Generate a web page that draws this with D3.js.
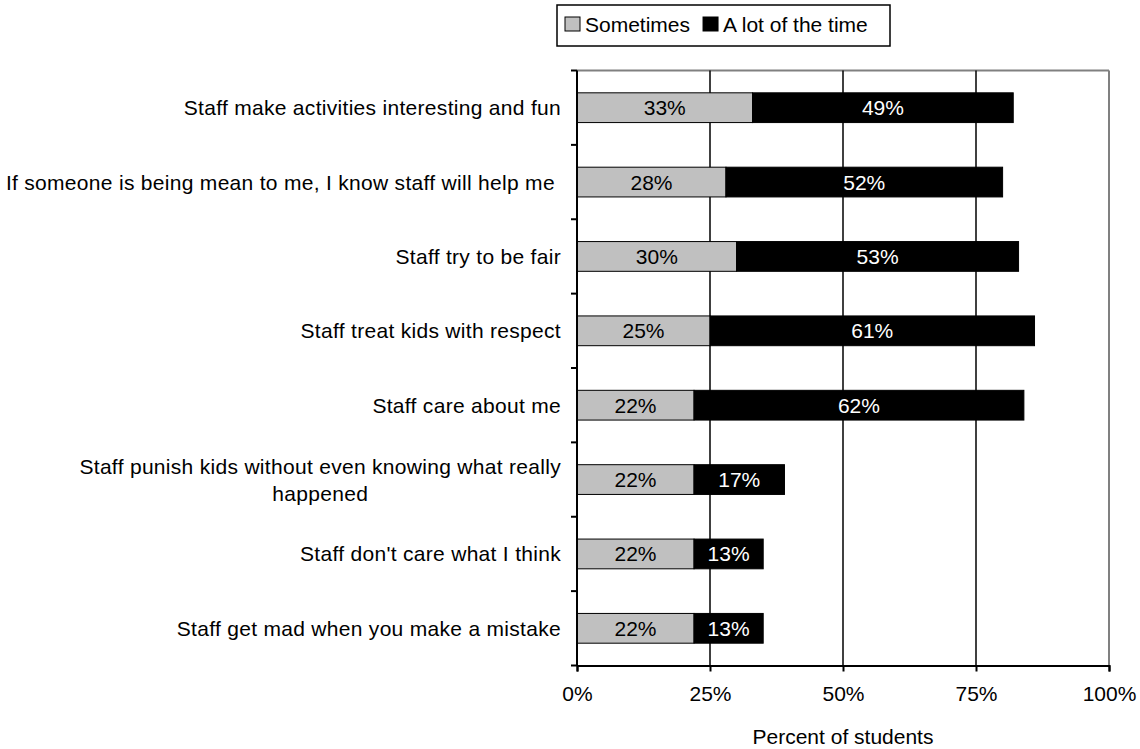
<!DOCTYPE html>
<html>
<head>
<meta charset="utf-8">
<script src="https://cdn.jsdelivr.net/npm/d3@7"></script>
<style>
  html, body { margin: 0; padding: 0; background: #fff; }
  svg { display: block; }
  text { font-family: "Liberation Sans", Arial, sans-serif; }
</style>
</head>
<body>
<svg id="chart" width="1140" height="749"></svg>
<script>
// Survey items (top to bottom); "\n" marks a manual line break
const categories = [
  "Staff make activities interesting and fun",
  "If someone is being mean to me, I know staff will help me ",
  "Staff try to be fair",
  "Staff treat kids with respect",
  "Staff care about me",
  "Staff punish kids without even knowing what really\nhappened",
  "Staff don't care what I think",
  "Staff get mad when you make a mistake"
];
const sometimes = [33, 28, 30, 25, 22, 22, 22, 22];
const aLotOfTheTime = [49, 52, 53, 61, 62, 17, 13, 13];
const seriesNames = ["Sometimes", "A lot of the time"];
const seriesColors = ["#C0C0C0", "#000000"];
const labelColors = ["#000000", "#FFFFFF"];
const xTicks = [0, 25, 50, 75, 100];
const xTitle = "Percent of students";

const svg = d3.select("#chart");
const plot = { left: 577, right: 1109, top: 70.5, bottom: 665.5 };
const fontSize = 21;

const x = d3.scaleLinear().domain([0, 100]).range([plot.left, plot.right]);
const y = d3.scaleBand().domain(d3.range(categories.length))
  .range([plot.top, plot.bottom]).paddingInner(0.6).paddingOuter(0.3);
const yBand = d3.scaleBand().domain(d3.range(categories.length))
  .range([plot.top, plot.bottom]);

// Frame: grey top and right edges
svg.append("line").attr("x1", plot.left).attr("x2", plot.right)
  .attr("y1", plot.top).attr("y2", plot.top)
  .attr("stroke", "#808080").attr("stroke-width", 2);
svg.append("line").attr("x1", plot.right).attr("x2", plot.right)
  .attr("y1", plot.top).attr("y2", plot.bottom)
  .attr("stroke", "#808080").attr("stroke-width", 2);

// Vertical gridlines
svg.append("g").selectAll("line").data(xTicks.slice(1, -1)).join("line")
  .attr("x1", d => x(d)).attr("x2", d => x(d))
  .attr("y1", plot.top).attr("y2", plot.bottom)
  .attr("stroke", "#000").attr("stroke-width", 1.5);

// Stacked bars
const stackData = categories.map((c, i) => ({ i, s0: sometimes[i], s1: aLotOfTheTime[i] }));
const stack = d3.stack().keys(["s0", "s1"])(stackData);

stack.forEach((layer, k) => {
  const g = svg.append("g");
  g.selectAll("rect").data(layer).join("rect")
    .attr("x", d => x(d[0]))
    .attr("y", d => y(d.data.i))
    .attr("width", d => x(d[1]) - x(d[0]))
    .attr("height", y.bandwidth())
    .attr("fill", seriesColors[k])
    .attr("stroke", "#000").attr("stroke-width", 1);
  g.selectAll("text").data(layer).join("text")
    .attr("x", d => (x(d[0]) + x(d[1])) / 2)
    .attr("y", d => y(d.data.i) + y.bandwidth() / 2)
    .attr("dy", "0.36em")
    .attr("text-anchor", "middle")
    .attr("font-size", fontSize)
    .attr("fill", labelColors[k])
    .text(d => (d[1] - d[0]) + "%");
});

// Left axis with outward ticks at category boundaries
svg.append("line").attr("x1", plot.left).attr("x2", plot.left)
  .attr("y1", plot.top).attr("y2", plot.bottom)
  .attr("stroke", "#000").attr("stroke-width", 2);
const boundaries = d3.range(categories.length + 1)
  .map(i => i < categories.length ? yBand(i) : plot.bottom);
svg.append("g").selectAll("line").data(boundaries).join("line")
  .attr("x1", plot.left - 6).attr("x2", plot.left)
  .attr("y1", d => d).attr("y2", d => d)
  .attr("stroke", "#000").attr("stroke-width", 2);

// Bottom axis
const xAxis = d3.axisBottom(x).tickValues(xTicks).tickFormat(d => d + "%")
  .tickSize(6).tickPadding(15);
const gx = svg.append("g").attr("transform", `translate(0,${plot.bottom})`).call(xAxis);
gx.select(".domain").attr("stroke", "#000").attr("stroke-width", 2);
gx.selectAll(".tick line").attr("stroke", "#000").attr("stroke-width", 2);
gx.selectAll(".tick text").attr("font-size", fontSize).attr("fill", "#000")
  .attr("font-family", "Liberation Sans, Arial, sans-serif");

// Category labels, right-aligned; wrapped lines centred on each other
const catG = svg.append("g");
categories.forEach((c, i) => {
  const lines = c.split("\n");
  const cy = y(i) + y.bandwidth() / 2;
  const lineH = 27;
  const t = catG.append("text")
    .attr("font-size", fontSize).attr("fill", "#000")
    .attr("letter-spacing", 0.3)
    .style("white-space", "pre");
  lines.forEach((ln, j) => {
    t.append("tspan").attr("x", 0)
      .attr("y", cy + (j - (lines.length - 1) / 2) * lineH)
      .attr("dy", "0.36em")
      .text(ln);
  });
  // position block so its right edge sits left of the axis
  const tspans = t.selectAll("tspan").nodes();
  const widths = tspans.map(n => n.getComputedTextLength());
  const maxW = d3.max(widths);
  const right = plot.left - 16;
  tspans.forEach((n, j) => {
    d3.select(n).attr("x", right - maxW + (maxW - widths[j]) / 2);
  });
});

// Axis title
svg.append("text")
  .attr("x", (plot.left + plot.right) / 2).attr("y", 736)
  .attr("dy", "0.36em").attr("text-anchor", "middle")
  .attr("font-size", fontSize).attr("fill", "#000")
  .text(xTitle);

// Legend
const legend = svg.append("g");
legend.append("rect").attr("x", 557).attr("y", 5).attr("width", 333).attr("height", 41)
  .attr("fill", "#fff").attr("stroke", "#000").attr("stroke-width", 1.5);
let lx = 565;
seriesNames.forEach((name, k) => {
  legend.append("rect").attr("x", lx).attr("y", 17).attr("width", 15).attr("height", 14)
    .attr("fill", seriesColors[k]).attr("stroke", "#000").attr("stroke-width", 1);
  const t = legend.append("text").attr("x", lx + 20).attr("y", 32)
    .attr("font-size", fontSize).attr("fill", "#000").text(name);
  lx += 20 + t.node().getComputedTextLength() + 13;
});
</script>
</body>
</html>
